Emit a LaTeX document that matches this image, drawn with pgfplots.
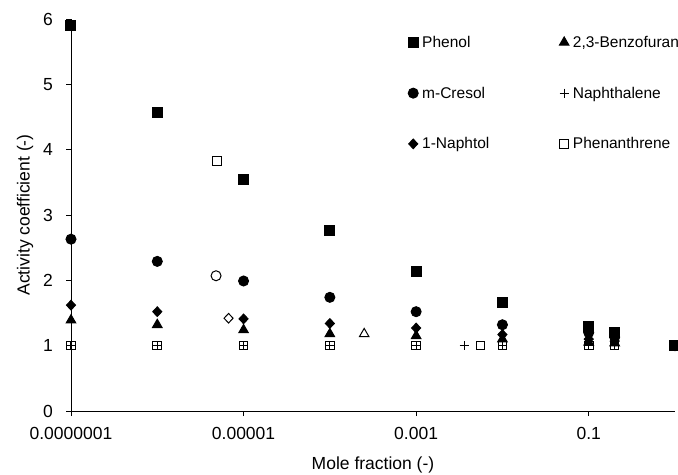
\documentclass[border=0pt]{standalone}
\usepackage{fontspec}
\setmainfont{Liberation Sans}
\usepackage{pgfplots}
\pgfplotsset{compat=1.18}

\begin{document}
\begin{tikzpicture}[font=\fontsize{17.5bp}{21bp}\selectfont]
\begin{axis}[
    name=ax,
    scale only axis,
    width=604bp, height=392bp,
    xmode=log,
    xmin=1e-7, xmax=1,
    ymin=0, ymax=6,
    clip=false,
    axis lines=left,
    axis line style={-, line width=0.9bp},
    tick align=outside,
    major tick length=5bp,
    tick style={black, line width=0.9bp},
    xminorticks=false,
    xtick={1e-7,1e-5,1e-3,1e-1},
    xticklabels={0.0000001,0.00001,0.001,0.1},
    ytick={0,1,2,3,4,5,6},
    yticklabels={0,1,2,3,4,5,6},
    xticklabel style={inner sep=0pt, anchor=north, yshift=-11bp},
    yticklabel style={inner sep=0pt, anchor=east, xshift=-13bp},
    xlabel={Mole fraction (-)},
    ylabel={Activity coefficient (-)},
    xlabel style={at={(rel axis cs:0.5,0)}, anchor=center, yshift=-54bp},
    ylabel style={at={(rel axis cs:0,0.5)}, anchor=center, yshift=46bp},
    legend columns=2,
    legend cell align=left,
    legend image code/.code={\draw[#1] plot coordinates {(0bp,0bp)};},
    legend style={draw=none, fill=none, at={(0.558,0.962)}, anchor=north west,
      inner sep=0pt, row sep=34bp, font=\fontsize{15.5bp}{18bp}\selectfont,
      /tikz/every odd column/.append style={column sep=2bp},
      /tikz/every even column/.append style={column sep=68bp}},
    every axis plot/.append style={only marks, line width=1bp},
  ]

  % Phenol
  \addplot[mark=square*, mark size=5bp, black] coordinates {
    (1e-7,5.90) (1e-6,4.57) (1e-5,3.55) (1e-4,2.76) (1e-3,2.14)
    (1e-2,1.66) (0.1,1.29) (0.2,1.20) (1,1.00)
  };
  \addlegendentry{Phenol}

  % 2,3-Benzofuran
  \addplot[mark=triangle*, mark size=5.5bp, black] coordinates {
    (1e-7,1.39) (1e-6,1.32) (1e-5,1.24) (1e-4,1.18) (1e-3,1.15)
    (1e-2,1.10) (0.1,1.05) (0.2,1.04)
  };
  \addlegendentry{2,3-Benzofuran}

  % m-Cresol
  \addplot[mark=*, mark size=5bp, black] coordinates {
    (1e-7,2.63) (1e-6,2.29) (1e-5,1.99) (1e-4,1.74) (1e-3,1.52)
    (1e-2,1.32) (0.1,1.20) (0.2,1.13) (1,1.00)
  };
  \addlegendentry{m-Cresol}

  % Naphthalene
  \addplot[mark=+, mark size=4.5bp, black] coordinates {
    (1e-7,1) (1e-6,1) (1e-5,1) (1e-4,1) (1e-3,1) (3.6e-3,1)
    (1e-2,1) (0.1,1) (0.2,1)
  };
  \addlegendentry{Naphthalene}

  % 1-Naphtol
  \addplot[mark=diamond*, mark size=4.8bp, mark options={xscale=1.25}, black] coordinates {
    (1e-7,1.62) (1e-6,1.52) (1e-5,1.41) (1e-4,1.34) (1e-3,1.27)
    (1e-2,1.17) (0.1,1.10) (0.2,1.07)
  };
  \addlegendentry{1-Naphtol}

  % Phenanthrene
  \addplot[mark=square, mark size=4.3bp, black] coordinates {
    (1e-7,1) (1e-6,1) (4.9e-6,3.83) (1e-5,1) (1e-4,1) (1e-3,1)
    (5.6e-3,1) (1e-2,1) (0.1,1) (0.2,1)
  };
  \addlegendentry{Phenanthrene}

  % open markers (no legend entry)
  \addplot[forget plot, mark=o, mark size=5bp, black] coordinates {(4.8e-6,2.07)};
  \addplot[forget plot, mark=diamond, mark size=4.8bp, mark options={xscale=1.25}, black] coordinates {(6.7e-6,1.42)};
  \addplot[forget plot, mark=triangle, mark size=5.5bp, black] coordinates {(2.5e-4,1.18)};

\end{axis}
\pgfresetboundingbox
\useasboundingbox ([xshift=-71bp,yshift=-64bp]ax.south west) rectangle ([xshift=3bp,yshift=19bp]ax.north east);
\end{tikzpicture}
\end{document}
